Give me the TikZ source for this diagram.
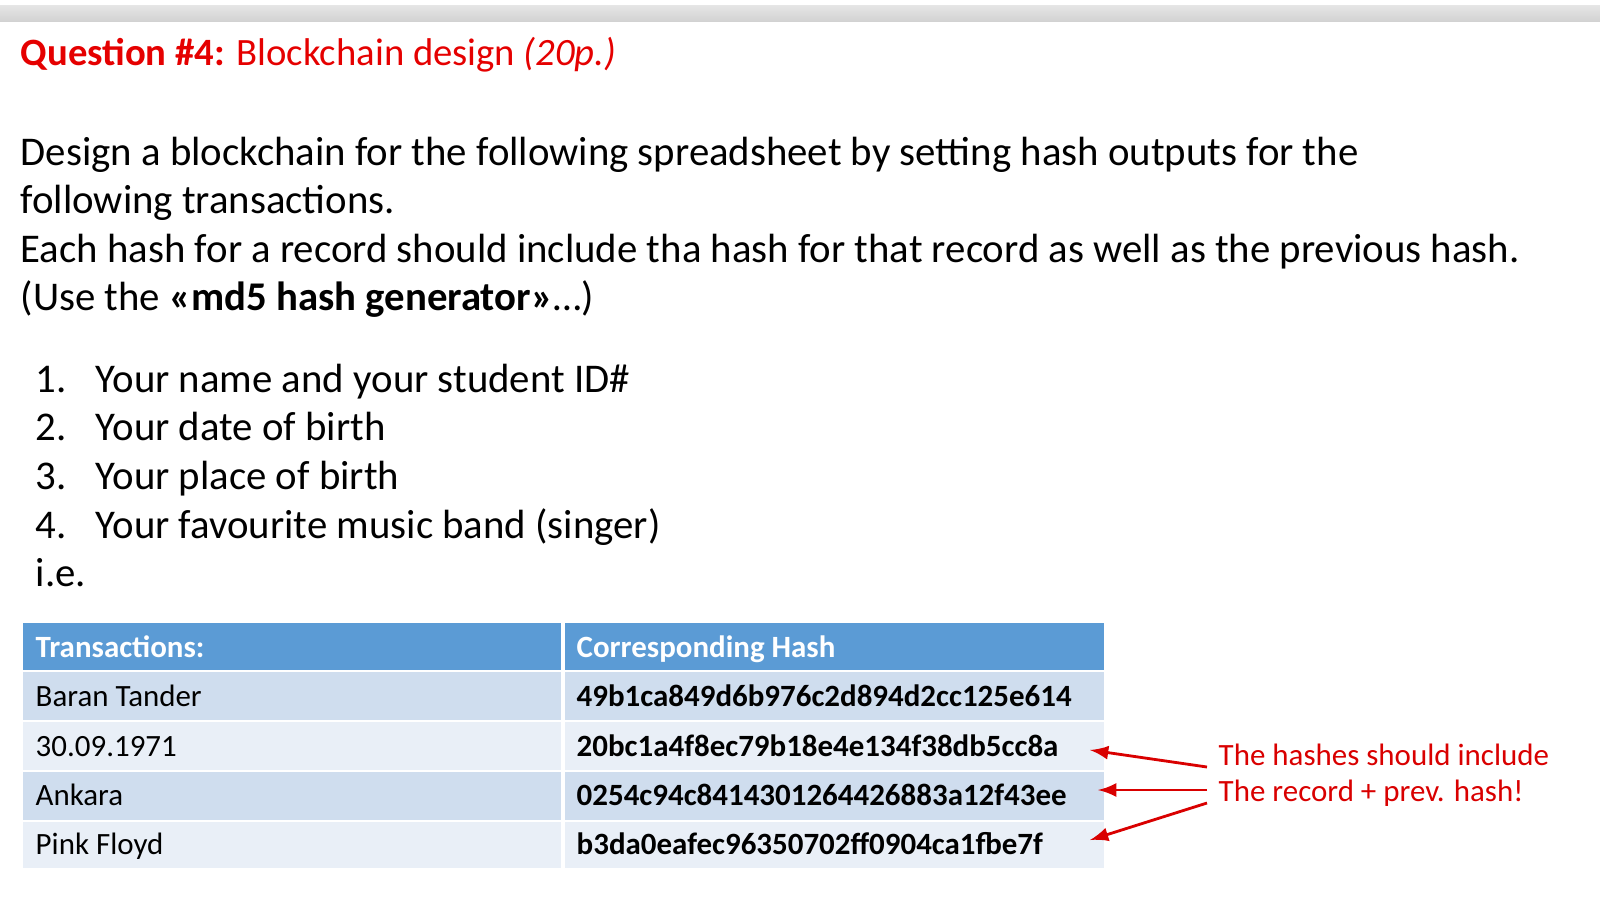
\documentclass[tikz,border=0pt]{standalone}
\usepackage{fontspec}
\setmainfont{Carlito}
\begin{document}
\begin{tikzpicture}[x=0.01cm,y=-0.01cm,
  txt/.style={anchor=base west,inner sep=0pt,font=\fontsize{11.6pt}{14pt}\selectfont},
  cell/.style={anchor=base west,inner sep=0pt,font=\fontsize{8.8pt}{11pt}\selectfont},
  bcell/.style={cell,font=\fontsize{8.8pt}{11pt}\selectfont\bfseries},
  note/.style={anchor=base west,inner sep=0pt,text=red!85!black,font=\fontsize{8.8pt}{11pt}\selectfont},
  arr/.style={red!85!black,thick,-latex}]
\definecolor{hdr}{HTML}{5B9BD5}
\definecolor{dk}{HTML}{CFDDEE}
\definecolor{lt}{HTML}{E9EFF7}
\useasboundingbox (0,0) rectangle (1600,911);
\shade[top color=gray!20,bottom color=gray!35] (0,5) rectangle (1600,21);
\node[txt,text=red!90!black,font=\fontsize{11pt}{14pt}\selectfont] (title) at (20,65) {\textbf{Question \#4:} Blockchain design \textit{(20p.)}};
\node[txt] (l1) at (20,165) {Design a blockchain for the following spreadsheet by setting hash outputs for the};
\node[txt] (l2) at (20,213) {following transactions.};
\node[txt] (l3) at (20,262) {Each hash for a record should include tha hash for that record as well as the previous hash.};
\node[txt] (l4) at (20,310) {(Use the \textbf{«md5 hash generator»}…)};
\foreach \n/\t/\y in {1/Your name and your student ID\#/392,2/Your date of birth/440,3/Your place of birth/489,4/Your favourite music band (singer)/538}{
  \node[txt] (n\n) at (35,\y) {\n.};
  \node[txt] (i\n) at (95,\y) {\t};
}
\node[txt] (ie) at (35,586) {i.e.};
\fill[hdr] (23,623) rectangle (1104,670);
\fill[dk] (23,672) rectangle (1104,720);
\fill[lt] (23,722) rectangle (1104,770);
\fill[dk] (23,772) rectangle (1104,820);
\fill[lt] (23,822) rectangle (1104,868);
\draw[white,line width=1.2pt] (563,623) -- (563,868);
\node[bcell,text=white] (h1) at (35,657) {Transactions:};
\node[bcell,text=white] (h2) at (576,657) {Corresponding Hash};
\foreach \a/\b/\y/\k in {Baran Tander/49b1ca849d6b976c2d894d2cc125e614/706/1,30.09.1971/20bc1a4f8ec79b18e4e134f38db5cc8a/756/2,Ankara/0254c94c8414301264426883a12f43ee/805/3,Pink Floyd/b3da0eafec96350702ff0904ca1fbe7f/854/4}{
  \node[cell] (a\k) at (35,\y) {\a};
  \node[bcell] (b\k) at (576,\y) {\b};
}
\node[note] (t1) at (1218,765) {The hashes should include};
\node[note] (t2) at (1218,801) {The record + prev. hash!};
\coordinate (s1) at (1207,767);
\coordinate (s2) at (1207,790);
\coordinate (s3) at (1207,803);
\coordinate (e1) at (1090,750);
\coordinate (e2) at (1098,790);
\coordinate (e3) at (1090,840);
\draw[arr] (s1) -- (e1);
\draw[arr] (s2) -- (e2);
\draw[arr] (s3) -- (e3);
\end{tikzpicture}
\end{document}
